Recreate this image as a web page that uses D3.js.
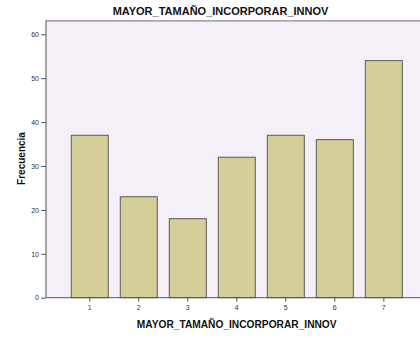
<!DOCTYPE html>
<html><head><meta charset="utf-8">
<script src="https://cdn.jsdelivr.net/npm/d3@7"></script>
<style>body{margin:0;background:#fff}svg{display:block}</style>
</head><body>
<script>
const categories = ["1","2","3","4","5","6","7"];
const values = [37, 23, 18, 32, 37, 36, 54];
const yTicks = [0, 10, 20, 30, 40, 50, 60];
const title = "MAYOR_TAMAÑO_INCORPORAR_INNOV";
const xLabel = "MAYOR_TAMAÑO_INCORPORAR_INNOV";
const yLabel = "Frecuencia";

const W = 420, H = 338;
const plot = {left: 46, right: 427.6, top: 20.3, bottom: 297.7};
const svg = d3.select("body").append("svg").attr("width", W).attr("height", H);

const x = d3.scaleBand().domain(categories).range([plot.left, plot.right])
  .paddingInner(0.245).paddingOuter(0.516);
const y = d3.scaleLinear().domain([0, 60]).range([plot.bottom, 34.3]);

svg.append("rect").attr("x", plot.left).attr("y", plot.top)
  .attr("width", plot.right - plot.left).attr("height", plot.bottom - plot.top)
  .attr("fill", "#f5f0f7");
svg.append("line").attr("x1", plot.left).attr("x2", plot.right)
  .attr("y1", plot.top + 0.5).attr("y2", plot.top + 0.5)
  .attr("stroke", "#8a8a8a").attr("stroke-width", 1.2);

svg.append("g").selectAll("rect").data(values).join("rect")
  .attr("x", (d, i) => x(categories[i]))
  .attr("y", d => y(d))
  .attr("width", x.bandwidth())
  .attr("height", d => y(0) - y(d))
  .attr("fill", "#d4cf98")
  .attr("stroke", "#5a5a5a").attr("stroke-width", 1);

const yAxis = svg.append("g").attr("transform", `translate(${plot.left},0)`)
  .call(d3.axisLeft(y).tickValues(yTicks).tickSize(5).tickPadding(2));
yAxis.select(".domain").attr("d", `M0,${plot.top}V${plot.bottom}`);
const xAxis = svg.append("g").attr("transform", `translate(0,${plot.bottom})`)
  .call(d3.axisBottom(x).tickSize(4).tickPadding(3));
xAxis.select(".domain").attr("d", `M${plot.left},0H${W}`);
[yAxis, xAxis].forEach(a => {
  a.selectAll(".domain, .tick line").attr("stroke", "#555").attr("stroke-width", 1);
  a.selectAll("text").attr("font-family", "Liberation Sans, Arial, sans-serif")
    .attr("font-size", 7).attr("fill", "#333");
});

svg.append("text").attr("x", 220.5).attr("y", 15).attr("text-anchor", "middle")
  .attr("font-family", "Liberation Sans, Arial, sans-serif").attr("font-weight", "bold")
  .attr("font-size", 11).attr("fill", "#111").text(title);
svg.append("text").attr("x", 236.7).attr("y", 328).attr("text-anchor", "middle")
  .attr("font-family", "Liberation Sans, Arial, sans-serif").attr("font-weight", "bold")
  .attr("font-size", 10.2).attr("fill", "#111").text(xLabel);
svg.append("text").attr("transform", "translate(25,158.5) rotate(-90)").attr("text-anchor", "middle")
  .attr("font-family", "Liberation Sans, Arial, sans-serif").attr("font-weight", "bold")
  .attr("font-size", 10).attr("fill", "#111").text(yLabel);
</script>
</body></html>
